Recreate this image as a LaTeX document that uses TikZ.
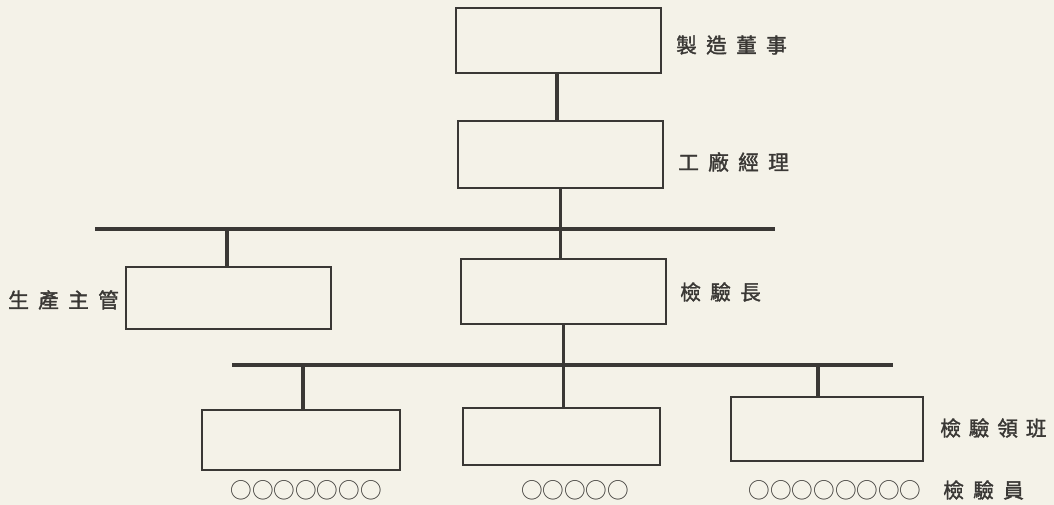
\documentclass[tikz,border=0pt]{standalone}
\usepackage{fontspec}
\newfontfamily\cjk{Noto Sans CJK TC}
\newfontfamily\cjkb{Noto Sans CJK TC}[FakeBold=1.6]
\definecolor{paper}{HTML}{F4F2E8}
\definecolor{ink}{HTML}{3A3835}
\begin{document}
\begin{tikzpicture}[x=0.75pt,y=-0.75pt,
  box/.style={draw=ink,line width=1.6pt,minimum width=#1,inner sep=0pt},
  link/.style={draw=ink,line width=2.4pt},
  lab/.style={text=ink,font=\cjkb\fontsize{15.5pt}{16pt}\selectfont,anchor=west,inner sep=0pt},
  dots/.style={text=ink,font=\cjk\fontsize{16.2pt}{16pt}\selectfont,inner sep=0pt}]
\fill[paper] (0,0) rectangle (1054,505);
\useasboundingbox (0,0) rectangle (1054,505);
% boxes
\node[box=153.75pt,minimum height=48.75pt] (dir) at (558.5,40.5) {};
\node[box=153.75pt,minimum height=50pt] (mgr) at (560.5,154.5) {};
\node[box=153.75pt,minimum height=48.75pt] (chief) at (563.5,291.5) {};
\node[box=153.75pt,minimum height=46.5pt] (prod) at (228.5,298) {};
\node[box=148.5pt,minimum height=45pt] (s1) at (301,440) {};
\node[box=147.75pt,minimum height=42.75pt] (s2) at (561.5,436.5) {};
\node[box=144pt,minimum height=48pt] (s3) at (827,429) {};
% bus coordinates
\coordinate (b1l) at (95,229);
\coordinate (b1r) at (775,229);
\coordinate (b2l) at (232,365);
\coordinate (b2r) at (893,365);
% connectors
\draw[link] (b1l) -- (b1r);
\draw[link] (b2l) -- (b2r);
\draw[link] ([xshift=-1.2pt]dir.south) -- ([xshift=-1.2pt]dir.south |- mgr.north);
\draw[link] (mgr.south) -- (mgr.south |- chief.north);
\draw[link] (prod.north -| 227,0) -- (227,229);
\draw[link] (chief.south) -- (chief.south |- s2.north);
\draw[link] (303,365) -- (s1.north -| 303,0);
\draw[link] (818,365) -- (s3.north -| 818,0);
% labels
\node[lab] (ldir) at (676,45) {製\hspace{0.45em}造\hspace{0.45em}董\hspace{0.45em}事};
\node[lab] (lmgr) at (678,162) {工\hspace{0.45em}廠\hspace{0.45em}經\hspace{0.45em}理};
\node[lab] (lchief) at (680,292) {檢\hspace{0.45em}驗\hspace{0.45em}長};
\node[lab] (lprod) at (8,300) {生\hspace{0.45em}產\hspace{0.45em}主\hspace{0.45em}管};
\node[lab] (lfore) at (940,428) {檢\hspace{0.38em}驗\hspace{0.38em}領\hspace{0.38em}班};
\node[lab] (lins) at (943,490) {檢\hspace{0.45em}驗\hspace{0.45em}員};
\node[dots] (c1) at (306,490) {○○○○○○○};
\node[dots] (c2) at (575,490) {○○○○○};
\node[dots] (c3) at (835,490) {○○○○○○○○};
\end{tikzpicture}
\end{document}
